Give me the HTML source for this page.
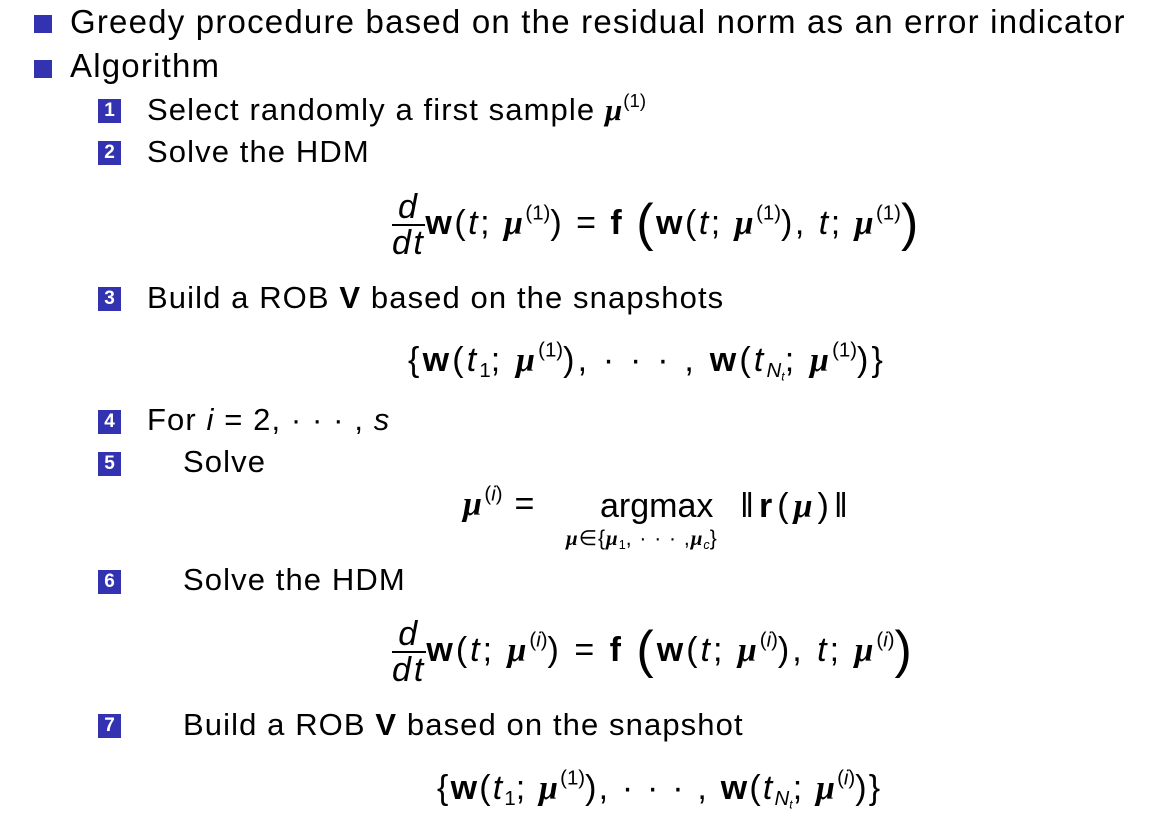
<!DOCTYPE html>
<html><head><meta charset="utf-8"><style>
body{margin:0;background:#fff;width:1156px;height:832px;overflow:hidden;position:relative;font-family:"Liberation Sans",sans-serif;color:#000}
.a{position:absolute;white-space:nowrap}
.bul{position:absolute;width:18px;height:18px;background:#3333b2}
.num{position:absolute;width:23px;height:24px;background:#3333b2;color:#fff;font-weight:bold;font-size:19px;text-align:center;line-height:24px}
.t1{font-size:33px;line-height:36px;letter-spacing:1.2px}
.t2{font-size:31px;line-height:34px;letter-spacing:1.1px}
.eq{font-size:34px;line-height:36px;letter-spacing:2.5px}
i{font-style:italic}
b{font-weight:bold}
.mu{font-weight:bold;font-style:italic;font-family:"Liberation Serif",serif}
sup{font-size:60%;vertical-align:0.7em;line-height:0;letter-spacing:0}
sub{font-size:60%;vertical-align:-0.3em;line-height:0;letter-spacing:0}
.frac{display:inline-block;vertical-align:middle;text-align:center;font-style:italic;line-height:34px}
.frac span{display:block}
.frac .n{border-bottom:2px solid #000;padding:0 2px}
.big{font-size:52px;vertical-align:-6px;font-weight:300}
</style></head><body>
<div class="bul" style="left:34px;top:15px"></div>
<div class="a t1" style="left:70px;top:4px">Greedy procedure based on the residual norm as an error indicator</div>
<div class="bul" style="left:34px;top:60px"></div>
<div class="a t1" style="left:70px;top:48px">Algorithm</div>

<div class="num" style="left:98px;top:99px">1</div>
<div class="a t2" style="left:147px;top:93px">Select randomly a first sample <span class="mu">μ</span><sup>(1)</sup></div>
<div class="num" style="left:98px;top:141px">2</div>
<div class="a t2" style="left:147px;top:135px">Solve the HDM</div>
<div class="a eq" style="left:392px;top:190px"><span class="frac"><span class="n">d</span><span>dt</span></span><b>w</b>(<i>t</i>; <span class="mu">μ</span><sup>(1)</sup>) = <b>f</b> <span class="big">(</span><b>w</b>(<i>t</i>; <span class="mu">μ</span><sup>(1)</sup>), <i>t</i>; <span class="mu">μ</span><sup>(1)</sup><span class="big">)</span></div>

<div class="num" style="left:98px;top:287px">3</div>
<div class="a t2" style="left:147px;top:281px">Build a ROB <b>V</b> based on the snapshots</div>
<div class="a eq" style="left:408px;top:342px;letter-spacing:3.2px">{<b>w</b>(<i>t</i><sub>1</sub>; <span class="mu">μ</span><sup>(1)</sup>), · · · , <b>w</b>(<i>t</i><sub><i>N<sub>t</sub></i></sub>; <span class="mu">μ</span><sup>(1)</sup>)}</div>

<div class="num" style="left:98px;top:410px">4</div>
<div class="a t2" style="left:147px;top:403px">For <i>i</i> = 2, · · · , <i>s</i></div>
<div class="num" style="left:98px;top:452px">5</div>
<div class="a t2" style="left:183px;top:445px">Solve</div>
<div class="a eq" style="left:463px;top:486px"><span class="mu">μ</span><sup>(<i>i</i>)</sup> =</div>
<div class="a eq" style="left:600px;top:488px;letter-spacing:0">argmax</div>
<div class="a" style="left:566px;top:526px;font-size:21px;letter-spacing:1px"><span class="mu">μ</span>∈{<span class="mu">μ</span><sub>1</sub>, · · · ,<span class="mu">μ</span><sub><i>c</i></sub>}</div>
<div class="a eq" style="left:740px;top:488px;letter-spacing:5px">‖<b>r</b>(<span class="mu">μ</span>)‖</div>

<div class="num" style="left:98px;top:570px">6</div>
<div class="a t2" style="left:183px;top:563px">Solve the HDM</div>
<div class="a eq" style="left:392px;top:617px;letter-spacing:3px"><span class="frac"><span class="n">d</span><span>dt</span></span><b>w</b>(<i>t</i>; <span class="mu">μ</span><sup>(<i>i</i>)</sup>) = <b>f</b> <span class="big">(</span><b>w</b>(<i>t</i>; <span class="mu">μ</span><sup>(<i>i</i>)</sup>), <i>t</i>; <span class="mu">μ</span><sup>(<i>i</i>)</sup><span class="big">)</span></div>

<div class="num" style="left:98px;top:714px">7</div>
<div class="a t2" style="left:183px;top:708px">Build a ROB <b>V</b> based on the snapshot</div>
<div class="a eq" style="left:437px;top:770px;letter-spacing:2.2px">{<b>w</b>(<i>t</i><sub>1</sub>; <span class="mu">μ</span><sup>(1)</sup>), · · · , <b>w</b>(<i>t</i><sub><i>N<sub>t</sub></i></sub>; <span class="mu">μ</span><sup>(<i>i</i>)</sup>)}</div>
</body></html>
